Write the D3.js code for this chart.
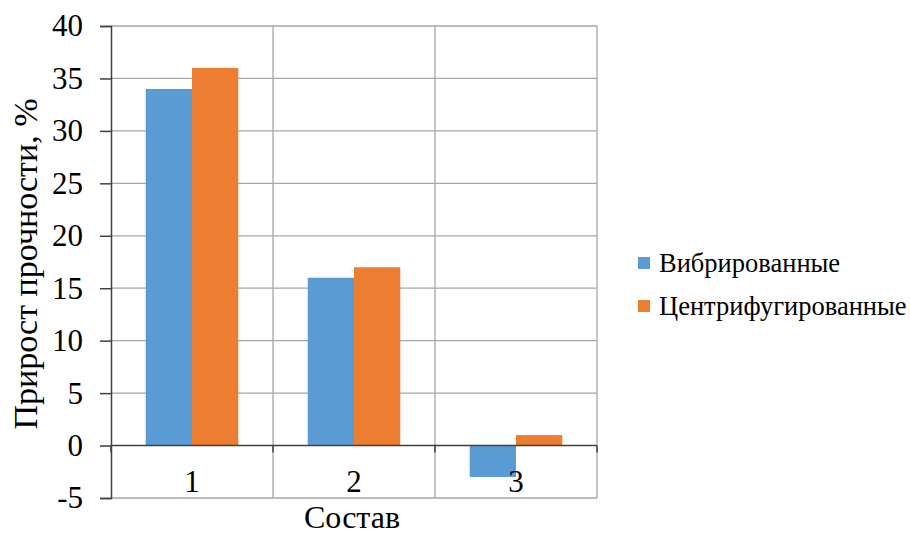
<!DOCTYPE html>
<html>
<head>
<meta charset="utf-8">
<script src="https://cdn.jsdelivr.net/npm/d3@7"></script>
<style>
  html, body { margin: 0; padding: 0; background: #fff; }
  svg { display: block; }
</style>
</head>
<body>
<svg id="chart" width="910" height="534"></svg>
<script>
// Составы и серии
const categories = ["1", "2", "3"];
const seriesNames = ["Вибрированные", "Центрифугированные"];
const vibrated = [34, 16, -3];
const centrifuged = [36, 17, 1];
const yTicks = [-5, 0, 5, 10, 15, 20, 25, 30, 35, 40];
const colors = ["#5b9bd5", "#ed7d31"];
const FONT = "Liberation Serif";

const svg = d3.select("#chart");
const plotLeft = 111, plotRight = 597, plotTop = 26, plotBottom = 498;

const y = d3.scaleLinear().domain([-5, 40]).range([plotBottom, plotTop]);
const x = d3.scaleBand().domain(categories).range([plotLeft, plotRight]).paddingInner(0).paddingOuter(0);
// gap width 150%: half a gap (0.75 bar) on each side of the pair
const x1 = d3.scaleBand().domain(seriesNames).range([0, x.bandwidth()]).paddingInner(0).paddingOuter(0.75);

// horizontal gridlines
svg.append("g").selectAll("line").data(yTicks.filter(d => d !== 0)).join("line")
  .attr("x1", plotLeft).attr("x2", plotRight)
  .attr("y1", d => y(d)).attr("y2", d => y(d))
  .attr("stroke", "#a6a6a6").attr("stroke-width", 1.3);

// vertical gridlines at category boundaries
const bounds = categories.map(c => x(c) + x.bandwidth());
svg.append("g").selectAll("line").data(bounds).join("line")
  .attr("x1", d => d).attr("x2", d => d)
  .attr("y1", plotTop).attr("y2", plotBottom)
  .attr("stroke", "#a6a6a6").attr("stroke-width", 1.3);

// bars
const rows = categories.map((c, i) => ({ c, vals: [vibrated[i], centrifuged[i]] }));
const g = svg.append("g");
rows.forEach(r => {
  r.vals.forEach((v, j) => {
    g.append("rect")
      .attr("x", x(r.c) + x1(seriesNames[j]))
      .attr("width", x1.bandwidth())
      .attr("y", y(Math.max(0, v)))
      .attr("height", Math.abs(y(v) - y(0)))
      .attr("fill", colors[j]);
  });
});

// zero axis line with ticks
svg.append("line").attr("x1", plotLeft).attr("x2", plotRight)
  .attr("y1", y(0)).attr("y2", y(0)).attr("stroke", "#404040").attr("stroke-width", 1.5);
svg.append("g").selectAll("line").data([plotLeft, ...bounds]).join("line")
  .attr("x1", d => d).attr("x2", d => d)
  .attr("y1", y(0)).attr("y2", y(0) + 7)
  .attr("stroke", "#404040").attr("stroke-width", 1.5);

// y axis
const yAxis = d3.axisLeft(y).tickValues(yTicks).tickSize(11).tickPadding(17)
  .tickFormat(d => String(d));
const ya = svg.append("g").attr("transform", `translate(${plotLeft},0)`).call(yAxis);
ya.select(".domain").attr("stroke", "#404040").attr("stroke-width", 1.5);
ya.selectAll(".tick line").attr("stroke", "#404040").attr("stroke-width", 1.5);
ya.selectAll(".tick text").attr("fill", "#000").attr("font-family", FONT).attr("font-size", 31);

// category labels
svg.append("g").selectAll("text").data(categories).join("text")
  .attr("x", d => x(d) + x.bandwidth() / 2)
  .attr("y", y(0) + 46)
  .attr("text-anchor", "middle")
  .attr("font-family", FONT).attr("font-size", 31)
  .text(d => d);

// axis titles
svg.append("text").attr("x", (plotLeft + plotRight) / 2 - 2).attr("y", 528)
  .attr("text-anchor", "middle").attr("font-family", FONT).attr("font-size", 32).text("Состав");
svg.append("text")
  .attr("transform", `translate(37,${(plotTop + plotBottom) / 2 + 2}) rotate(-90)`)
  .attr("text-anchor", "middle").attr("font-family", FONT).attr("font-size", 34)
  .text("Прирост прочности, %");

// legend
const lg = svg.append("g").selectAll("g").data(seriesNames).join("g")
  .attr("transform", (d, i) => `translate(638,${257 + i * 43})`);
lg.append("rect").attr("width", 12).attr("height", 12).attr("fill", (d, i) => colors[i]);
lg.append("text").attr("x", 21).attr("y", 15).attr("font-family", FONT).attr("font-size", 26.5)
  .text(d => d);
</script>
</body>
</html>
